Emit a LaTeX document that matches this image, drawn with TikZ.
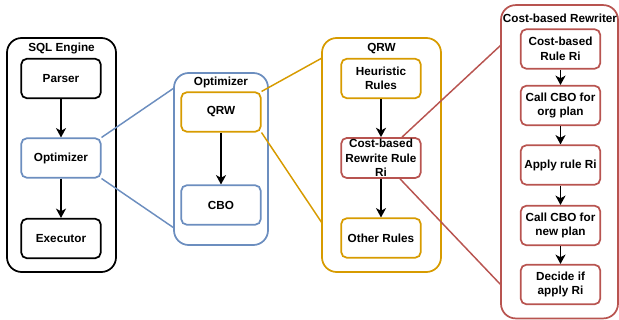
\documentclass[tikz,border=0pt]{standalone}
\usepackage{fontspec}
\setmainfont{Liberation Sans}
\usetikzlibrary{arrows.meta}
\definecolor{engblue}{HTML}{6C8EBF}
\definecolor{qrwgold}{HTML}{D79B00}
\definecolor{rwred}{HTML}{B85450}

\begin{document}
\begin{tikzpicture}[
  x=0.75pt,y=-0.75pt,
  font=\fontsize{8.8pt}{10.8pt}\selectfont\bfseries,
  box/.style={draw,rounded corners=4pt,line width=1.3pt,fill=white,align=center,
    minimum width=59.5pt,minimum height=29.5pt,inner sep=1pt},
  frame/.style={draw,rounded corners=11pt,line width=1.3pt},
  flow/.style={-{Stealth[length=7pt,width=7.5pt,inset=2pt]},line width=1.3pt},
  zoomline/.style={line width=1.1pt}]
\useasboundingbox (0,0) rectangle (619,320);
% containers
\node[frame,minimum width=81.75pt,minimum height=175.5pt] (engine) at (61.5,155) {};
\node[frame,draw=engblue,minimum width=70.5pt,minimum height=129pt] (optframe) at (221,159) {};
\node[frame,draw=qrwgold,minimum width=89.25pt,minimum height=175.5pt] (qrwframe) at (381.5,155) {};
\node[frame,draw=rwred,minimum width=87.75pt,minimum height=235pt] (rwframe) at (559.5,161.75) {};
\node (enginetitle) at (61.5,48) {SQL Engine};
\node (opttitle) at (221,82) {Optimizer};
\node (qrwtitle) at (381.5,49) {QRW};
\node (rwtitle) at (560,18) {Cost-based Rewriter};
% SQL engine
\node[box] (parser) at (61,78.5) {Parser};
\node[box,draw=engblue] (optim) at (61,158) {Optimizer};
\node[box] (exec) at (61,238.5) {Executor};
% optimizer
\node[box,draw=qrwgold] (qrw) at (221,112) {QRW};
\node[box,draw=engblue] (cbo) at (221,205) {CBO};
% QRW
\node[box,draw=qrwgold] (heur) at (381,78.5) {Heuristic\\Rules};
\node[box,draw=rwred] (cbrule) at (381,158) {Cost-based\\Rewrite Rule\\Ri};
\node[box,draw=qrwgold] (other) at (381,238) {Other Rules};
% cost-based rewriter
\node[box,draw=rwred] (rule) at (560.5,49) {Cost-based\\Rule Ri};
\node[box,draw=rwred] (orgplan) at (560.5,105.5) {Call CBO for\\org plan};
\node[box,draw=rwred] (apply) at (560.5,165) {Apply rule Ri};
\node[box,draw=rwred] (newplan) at (560.5,225.5) {Call CBO for\\new plan};
\node[box,draw=rwred] (decide) at (560.5,284.5) {Decide if\\apply Ri};
% flows
\draw[flow] (parser) -- (optim);
\draw[flow] (optim) -- (exec);
\draw[flow] (qrw) -- (cbo);
\draw[flow] (heur) -- (cbrule);
\draw[flow] (cbrule) -- (other);
\draw[flow] (rule) -- (orgplan);
\draw[flow] (orgplan) -- (apply);
\draw[flow] (apply) -- (newplan);
\draw[flow] (newplan) -- (decide);
% zoom lines
\coordinate (optin1) at (174,88);
\coordinate (optin2) at (174,228);
\coordinate (qrwin1) at (322,58);
\coordinate (qrwin2) at (322,223);
\coordinate (rwin1) at (501,45);
\coordinate (rwin2) at (501,285);
\draw[zoomline,engblue] (optim.north east) -- (optin1);
\draw[zoomline,engblue] (optim.south east) -- (optin2);
\draw[zoomline,qrwgold] (qrw.north east) -- (qrwin1);
\draw[zoomline,qrwgold] (qrw.south east) -- (qrwin2);
\draw[zoomline,rwred] ([xshift=15.75pt]cbrule.north) -- (rwin1);
\draw[zoomline,rwred] ([xshift=14.25pt]cbrule.south) -- (rwin2);
\end{tikzpicture}
\end{document}
